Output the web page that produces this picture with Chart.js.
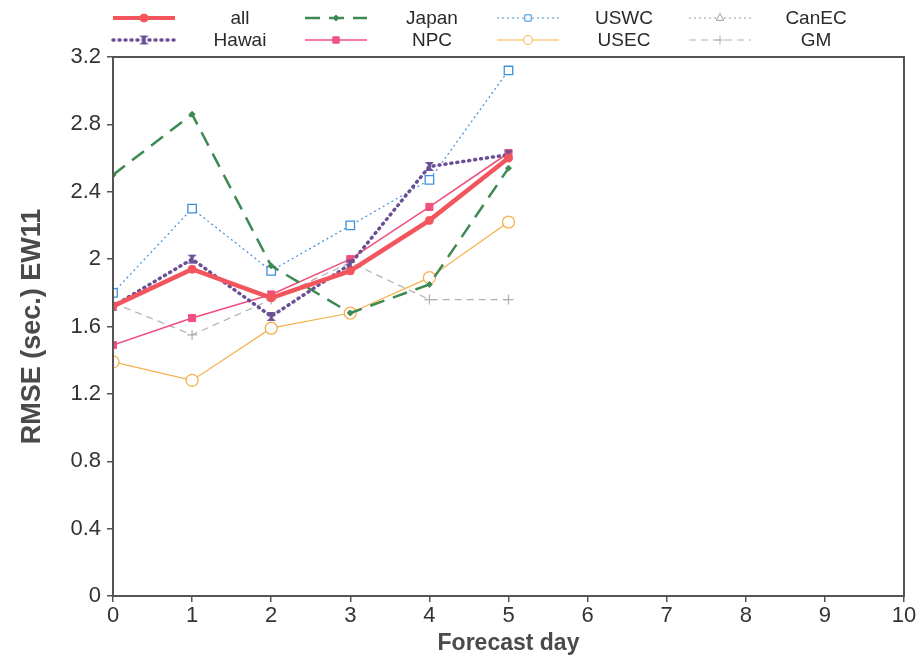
<!DOCTYPE html>
<html><head><meta charset="utf-8">
<script src="https://cdn.jsdelivr.net/npm/chart.js@4"></script>
<style>html,body{margin:0;padding:0;background:#fff}#wrap{width:923px;height:661px}</style>
</head><body><div id="wrap"><canvas id="c" width="923" height="661"></canvas></div>
<script>
const days = [0, 1, 2, 3, 4, 5];
const xTicks = [0,1,2,3,4,5,6,7,8,9,10];
const yTicks = [0,0.4,0.8,1.2,1.6,2,2.4,2.8,3.2];
const seriesNames = ['all','Hawai','Japan','NPC','USWC','USEC','CanEC','GM'];
const allVals   = [1.72, 1.94, 1.77, 1.93, 2.23, 2.60];
const hawaiVals = [1.72, 2.00, 1.66, 1.97, 2.55, 2.62];
const japanVals = [2.50, 2.86, 1.96, 1.68, 1.85, 2.54];
const npcVals   = [1.49, 1.65, 1.79, 2.00, 2.31, 2.63];
const uswcVals  = [1.80, 2.30, 1.93, 2.20, 2.47, 3.12];
const usecVals  = [1.39, 1.28, 1.59, 1.68, 1.89, 2.22];
const canecVals = [];
const gmVals    = [1.74, 1.55, 1.76, 1.98, 1.76, 1.76];

function hourglass(color){
  const c=document.createElement('canvas');c.width=11;c.height=11;
  const g=c.getContext('2d');g.fillStyle=color;
  g.beginPath();g.moveTo(1,1);g.lineTo(10,1);g.lineTo(5.5,5.5);g.closePath();g.fill();
  g.beginPath();g.moveTo(1,10);g.lineTo(10,10);g.lineTo(5.5,5.5);g.closePath();g.fill();
  g.fillRect(4,3,3,5);
  return c;
}
const pts = v => v.map((y,i)=>({x:days[i],y}));
const datasets = [
 {label:seriesNames[0],data:pts(allVals),borderColor:'#f2555c',backgroundColor:'#f2555c',borderWidth:4.5,pointStyle:'circle',pointRadius:4,pointBorderWidth:1},
 {label:seriesNames[1],data:pts(hawaiVals),borderColor:'#6b4f94',backgroundColor:'#6b4f94',borderWidth:3.5,borderDash:[1,5],borderCapStyle:'round',pointStyle:hourglass('#6b4f94'),pointRadius:5},
 {label:seriesNames[2],data:pts(japanVals),borderColor:'#3d8a52',backgroundColor:'#3d8a52',borderWidth:2.5,borderDash:[15,9],pointStyle:'rectRot',pointRadius:3,pointBorderWidth:1},
 {label:seriesNames[3],data:pts(npcVals),borderColor:'#f0507e',backgroundColor:'#f0507e',borderWidth:1.6,pointStyle:'rect',pointRadius:5,pointBorderWidth:1},
 {label:seriesNames[4],data:pts(uswcVals),borderColor:'#3f8fde',backgroundColor:'#ffffff',borderWidth:1.2,borderDash:[2,3],pointStyle:'rect',pointRadius:6,pointBorderWidth:1.3},
 {label:seriesNames[5],data:pts(usecVals),borderColor:'#f5b04c',backgroundColor:'#ffffff',borderWidth:1.2,pointStyle:'circle',pointRadius:6,pointBorderWidth:1.3},
 {label:seriesNames[6],data:pts(canecVals),borderColor:'#9a9a9a',backgroundColor:'#ffffff',borderWidth:1,borderDash:[2,3],pointStyle:'triangle',pointRadius:5,pointBorderWidth:1},
 {label:seriesNames[7],data:pts(gmVals),borderColor:'#b0b0b0',backgroundColor:'#b0b0b0',borderWidth:1.2,borderDash:[7,5],pointStyle:'cross',pointRadius:5,pointBorderWidth:1.2}
];
datasets.forEach(d=>{d.pointBorderColor=d.borderColor;d.tension=0;d.fill=false;});

const frame = {id:'frame',afterDraw(ch){
  const a=ch.chartArea,g=ch.ctx;g.save();g.strokeStyle='#555';g.lineWidth=2;
  g.strokeRect(a.left,a.top,a.right-a.left,a.bottom-a.top);g.restore();
}};
const legendPlug = {id:'leg',afterDraw(ch){
  const g=ch.ctx;g.save();
  ch.data.datasets.forEach((d,i)=>{
    const col=Math.floor(i/2),row=i%2;
    const x0=113+192*col,y=row?40:18;
    g.strokeStyle=d.borderColor;g.lineWidth=Math.min(d.borderWidth,4);
    g.setLineDash(d.borderDash||[]);g.lineCap=d.borderCapStyle||'butt';
    g.beginPath();g.moveTo(x0,y);g.lineTo(x0+62,y);g.stroke();g.setLineDash([]);
    g.fillStyle=d.backgroundColor;g.strokeStyle=d.borderColor;g.lineWidth=1;
    Chart.helpers.drawPoint(g,{pointStyle:d.pointStyle,radius:Math.min(d.pointRadius,4.5),borderWidth:1,rotation:0},x0+31,y);
    g.fillStyle='#2a2a2a';g.font='19px "Liberation Sans",Arial';
    g.textAlign='center';g.textBaseline='middle';
    g.fillText(d.label,x0+127,y+1);
  });
  g.restore();
}};

new Chart(document.getElementById('c'),{
 type:'line',
 data:{datasets},
 plugins:[frame,legendPlug],
 options:{
  responsive:false,animation:false,
  layout:{padding:{top:57,right:19,left:0,bottom:0}},
  plugins:{legend:{display:false},tooltip:{enabled:false}},
  scales:{
   x:{type:'linear',min:0,max:10,
      afterBuildTicks:s=>{s.ticks=xTicks.map(v=>({value:v}));},
      afterFit:s=>{s.height=65;},
      border:{display:false},
      grid:{display:true,drawOnChartArea:false,drawTicks:true,tickLength:6,color:'#555',lineWidth:1.5},
      ticks:{color:'#333',font:{family:'"Liberation Sans",Arial',size:22},padding:1,maxRotation:0},
      title:{display:true,text:'Forecast day',color:'#4a4a4a',font:{family:'"Liberation Sans",Arial',size:23,weight:'bold'},padding:{top:0,bottom:4}}},
   y:{type:'linear',min:0,max:3.2,
      afterBuildTicks:s=>{s.ticks=yTicks.map(v=>({value:v}));},
      afterFit:s=>{s.width=113;},
      border:{display:false},
      grid:{display:true,drawOnChartArea:false,drawTicks:true,tickLength:6,color:'#555',lineWidth:1.5},
      ticks:{color:'#333',font:{family:'"Liberation Sans",Arial',size:22},padding:6,callback:v=>String(Number(v.toFixed(1)))},
      title:{display:true,text:'RMSE (sec.) EW11',color:'#4a4a4a',font:{family:'"Liberation Sans",Arial',size:27,weight:'bold'},padding:{top:16,bottom:0}}}
  }
 }
});
</script></body></html>
